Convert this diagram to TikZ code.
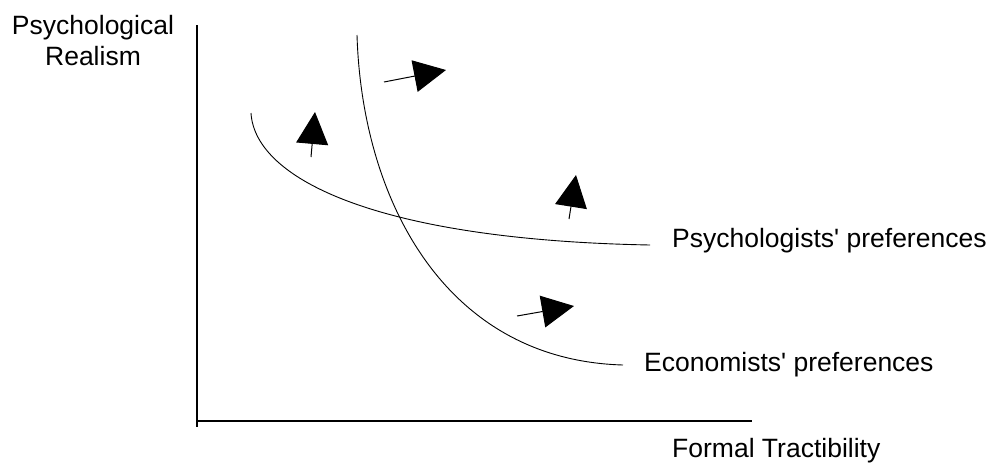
\documentclass[tikz,border=0pt]{standalone}
\usepackage{fontspec}
\setmainfont{Liberation Sans}
\usetikzlibrary{arrows.meta,positioning}
\tikzset{
  axis/.style={draw=black,line width=1.1pt},
  pref/.style={draw=black,line width=0.9pt},
  push/.style={-{Triangle[length=32pt,width=32pt]},line width=1pt},
  lbl/.style={font=\fontsize{26.5}{31}\selectfont,inner sep=0pt,align=center},
}
\begin{document}
\begin{tikzpicture}[x=1pt,y=-1pt]
  \useasboundingbox (0,0) rectangle (988,464);
  % axes
  \coordinate (top) at (197,25);
  \coordinate (bot) at (197,427);
  \coordinate (org) at (196,421);
  \coordinate (rgt) at (752,421);
  \draw[axis] (top) -- (bot);
  \draw[axis] (org) -- (rgt);
  \node[lbl,anchor=north] (ylab) at (93,14.7) {Psychological\\Realism};
  \node[lbl,anchor=base west] (xlab) at (672,457) {Formal Tractibility};
  % indifference curves
  \coordinate (ps0) at (251,113);
  \coordinate (ps1) at (650,245);
  \coordinate (ec0) at (357,35);
  \coordinate (ec1) at (623,365);
  \draw[pref] (ps0) .. controls (255,180) and (380,240) .. (ps1);
  \draw[pref] (ec0) .. controls (362,200) and (445,360) .. (ec1);
  \node[lbl,anchor=base west] (plab) at (672,247) {Psychologists\textquotesingle{} preferences};
  \node[lbl,anchor=base west] (elab) at (644,371) {Economists\textquotesingle{} preferences};
  % direction of preference
  \foreach \i/\sx/\sy/\tx/\ty in {1/311/157/315/112,2/384/82/446/70,3/569/219/576/175,4/517/316/574/306}{
    \coordinate (s\i) at (\sx,\sy);
    \coordinate (t\i) at (\tx,\ty);
    \draw[push] (s\i) -- (t\i);
  }
\end{tikzpicture}
\end{document}
